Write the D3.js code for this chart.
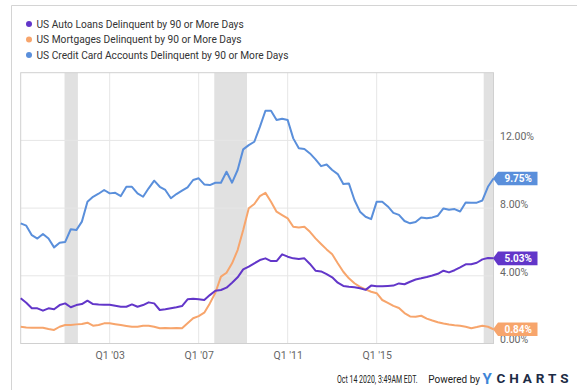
<!DOCTYPE html>
<html>
<head>
<meta charset="utf-8">
<script src="https://cdn.jsdelivr.net/npm/d3@7"></script>
<style>
  html, body { margin: 0; padding: 0; background: #fff; }
  svg { display: block; }
  text { font-family: Roboto, "Noto Sans", sans-serif; }
</style>
</head>
<body>
<svg id="chart" width="577" height="390"></svg>
<script>
// ---- data (quarterly, Q1 1999 .. Q2 2020) ----
const startYear = 1999;
const seriesNames = [
  "US Auto Loans Delinquent by 90 or More Days",
  "US Mortgages Delinquent by 90 or More Days",
  "US Credit Card Accounts Delinquent by 90 or More Days"
];
const seriesColors = ["#6236c9", "#f7a56c", "#5a8fdb"];
const autoLoans = [2.67,2.41,2.08,2.08,1.94,2.08,2.02,2.27,2.37,2.14,2.27,2.33,2.53,2.33,2.30,2.29,2.29,2.23,2.17,2.17,2.31,2.17,2.27,2.43,2.37,1.98,2.02,2.08,2.14,2.21,2.61,2.65,2.61,2.57,2.86,3.12,3.16,3.30,3.59,3.91,4.38,4.54,4.74,4.93,5.03,4.87,4.87,5.27,5.13,5.03,4.99,5.03,4.70,4.30,4.26,4.10,3.91,3.59,3.40,3.35,3.32,3.26,3.17,3.42,3.38,3.38,3.40,3.42,3.55,3.50,3.65,3.78,3.85,3.93,4.02,4.12,4.30,4.20,4.33,4.50,4.68,4.68,4.77,4.97,5.05,5.03];
const mortgages = [0.99,0.95,0.93,0.93,0.93,0.86,0.80,0.99,1.09,1.10,1.13,1.15,1.23,1.05,1.09,1.19,1.19,1.14,1.09,1.04,0.99,0.99,1.05,1.05,0.99,0.90,0.92,0.90,0.92,0.90,1.19,1.49,1.62,1.82,2.37,3.00,3.95,4.18,4.74,5.52,6.70,7.99,8.24,8.71,8.90,8.38,7.79,7.59,7.39,6.90,6.86,6.90,6.60,6.21,5.88,5.56,5.27,4.74,4.24,3.85,3.56,3.35,3.20,3.06,2.97,2.57,2.40,2.22,2.10,1.80,1.60,1.58,1.64,1.47,1.36,1.26,1.18,1.12,1.08,1.05,0.99,0.90,0.97,1.05,0.99,0.84];
const creditCards = [7.10,6.96,6.40,6.20,6.47,6.20,5.68,5.95,6.00,6.75,6.70,7.20,8.38,8.67,8.85,9.07,8.87,8.90,8.71,9.26,9.26,8.87,8.67,9.17,9.62,9.26,9.07,8.58,8.83,9.03,9.23,9.66,9.76,9.40,9.36,9.50,9.50,10.15,9.50,10.25,11.47,11.72,11.92,12.80,13.75,13.75,13.20,13.28,13.20,12.12,11.53,11.49,11.23,10.88,10.48,10.58,10.25,10.01,9.42,9.46,8.48,7.79,7.49,7.35,8.38,8.38,8.10,7.72,7.60,7.24,7.10,7.18,7.45,7.40,7.45,7.55,7.98,7.90,7.94,7.80,8.33,8.32,8.32,8.45,9.26,9.75];
const endLabels = ["5.03%", "0.84%", "9.75%"];
const xTickYears = [2003, 2007, 2011, 2015];
const xTickLabels = ["Q1 '03", "Q1 '07", "Q1 '11", "Q1 '15"];
const yTicks = [0, 4, 8, 12];
const yTickLabels = ["0.00%", "4.00%", "8.00%", "12.00%"];
const recessionStarts = [2000.97, 2007.70, 2019.81];
const recessionEnds = [2001.57, 2009.17, 2020.25];
const footerText = "Oct 14 2020, 3:49AM EDT.";

// ---- layout ----
const svg = d3.select("#chart");
const plot = { left: 20.7, right: 493.5, top: 72.7, bottom: 343.5 };
const x = d3.scaleLinear().domain([1999, 2020.25]).range([plot.left, plot.right]);
const y = d3.scaleLinear().domain([0, 16]).range([plot.bottom, plot.top]);

// outer frame
svg.append("line").attr("x1", 11.5).attr("x2", 577).attr("y1", 5.5).attr("y2", 5.5)
  .attr("stroke", "#d4d4d4").attr("stroke-width", 1);
svg.append("line").attr("x1", 11.5).attr("x2", 11.5).attr("y1", 5.5).attr("y2", 390)
  .attr("stroke", "#d4d4d4").attr("stroke-width", 1);

// legend
const legend = svg.append("g");
seriesNames.forEach((name, i) => {
  const ly = 24 + i * 15.5;
  legend.append("circle").attr("cx", 29).attr("cy", ly).attr("r", 3).attr("fill", seriesColors[i]);
  legend.append("text").attr("x", 36.5).attr("y", ly + 3.6)
    .attr("font-size", 10.2).attr("fill", "#333").text(name);
});

// recession bands
recessionStarts.forEach((s, i) => {
  svg.append("rect").attr("x", x(s)).attr("y", plot.top)
    .attr("width", x(recessionEnds[i]) - x(s)).attr("height", plot.bottom - plot.top)
    .attr("fill", "#e1e1e1");
});

// gridlines
svg.append("g").selectAll("line").data(yTicks.filter(v => v > 0)).join("line")
  .attr("x1", plot.left).attr("x2", plot.right)
  .attr("y1", d => y(d)).attr("y2", d => y(d))
  .attr("stroke", "#e6e6e6").attr("stroke-width", 1);
svg.append("g").selectAll("line").data(xTickYears).join("line")
  .attr("x1", d => x(d)).attr("x2", d => x(d))
  .attr("y1", plot.top).attr("y2", plot.bottom)
  .attr("stroke", "#e6e6e6").attr("stroke-width", 1);

// plot border
svg.append("rect").attr("x", plot.left).attr("y", plot.top)
  .attr("width", plot.right - plot.left).attr("height", plot.bottom - plot.top)
  .attr("fill", "none").attr("stroke", "#d0d0d0").attr("stroke-width", 1);

// x axis labels
const xAxis = d3.axisBottom(x).tickValues(xTickYears)
  .tickFormat((d, i) => xTickLabels[i]).tickSize(0).tickPadding(0);
const gx = svg.append("g").attr("transform", `translate(0, ${plot.bottom})`).call(xAxis);
gx.select(".domain").remove();
gx.selectAll("text").attr("font-family", "Roboto, sans-serif").attr("font-size", 10.5)
  .attr("fill", "#666").attr("dy", null).attr("y", 15);

// y axis labels (right)
const yAxis = d3.axisRight(y).tickValues(yTicks)
  .tickFormat((d, i) => yTickLabels[i]).tickSize(0).tickPadding(0);
const gy = svg.append("g").attr("transform", `translate(500, 0)`).call(yAxis);
gy.select(".domain").remove();
gy.selectAll("text").attr("font-family", "Roboto, sans-serif").attr("font-size", 10.5)
  .attr("fill", "#666").attr("dy", "-0.05em").attr("x", 0);

// lines
const allSeries = [autoLoans, mortgages, creditCards];
const line = d3.line().x((d, i) => x(startYear + i / 4)).y(d => y(d));
[1, 0, 2].forEach(k => {
  svg.append("path").datum(allSeries[k]).attr("d", line)
    .attr("fill", "none").attr("stroke", seriesColors[k])
    .attr("stroke-width", 2).attr("stroke-linejoin", "round");
});

// end labels
allSeries.forEach((s, k) => {
  const last = s[s.length - 1];
  const tipX = x(startYear + (s.length - 1) / 4) - 0.5;
  const cy = y(last);
  const h = 6.8, bx = tipX + 5, ex = 537.5;
  svg.append("path")
    .attr("d", `M${tipX},${cy} L${bx},${cy - h} L${ex},${cy - h} L${ex},${cy + h} L${bx},${cy + h} Z`)
    .attr("fill", seriesColors[k]);
  svg.append("text").attr("x", (bx + ex) / 2 + 0.5).attr("y", cy + 3.8)
    .attr("text-anchor", "middle").attr("font-family", "'DejaVu Sans Mono', monospace")
    .attr("font-weight", "bold").attr("font-size", 10).attr("fill", "#fff")
    .text(endLabels[k]);
});

// footer (condensed via horizontal scaling)
svg.append("g").attr("transform", "translate(337,383) scale(0.7,1)")
  .append("text").attr("x", 0).attr("y", 0).attr("font-size", 10)
  .attr("fill", "#222").text(footerText);
svg.append("text").attr("x", 480).attr("y", 383).attr("font-size", 10)
  .attr("text-anchor", "end").attr("fill", "#222").text("Powered by");
svg.append("text").attr("x", 482.5).attr("y", 383.5).attr("font-size", 15)
  .attr("font-weight", "bold").attr("fill", "#3d86d8").text("Y");
svg.append("text").attr("x", 496.5).attr("y", 383).attr("font-size", 13.5)
  .attr("font-weight", "bold").attr("fill", "#1c2b45")
  .attr("textLength", 72).attr("lengthAdjust", "spacing").text("CHARTS");
</script>
</body>
</html>
